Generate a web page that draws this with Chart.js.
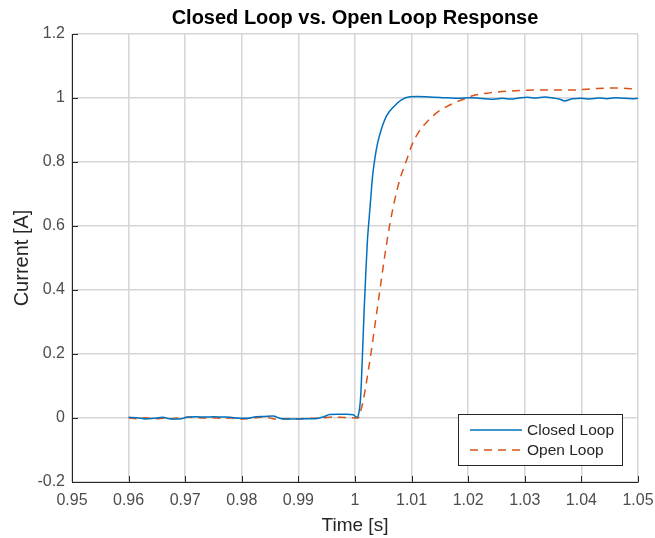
<!DOCTYPE html>
<html>
<head>
<meta charset="utf-8">
<script src="https://cdn.jsdelivr.net/npm/chart.js@4/dist/chart.umd.min.js"></script>
<style>
  html,body{margin:0;padding:0;background:#fff;}
  #wrap{position:relative;width:655px;height:538px;}
</style>
</head>
<body>
<div id="wrap"><canvas id="chart" width="655" height="538"></canvas></div>
<script>
// Data
const closedT = [0.96,0.9615,0.963,0.9645,0.966,0.9675,0.969,0.9705,0.972,0.9735,0.975,0.9765,0.978,0.9795,0.981,0.9825,0.984,0.9855,0.987,0.9885,0.99,0.9915,0.993,0.9945,0.9955,0.997,0.9985,0.9997,1.0003,1.0006,1.001,1.0013,1.0016,1.0019,1.0022,1.0025,1.0028,1.0031,1.0035,1.004,1.0047,1.0056,1.0068,1.0082,1.0097,1.011,1.0125,1.014,1.0155,1.017,1.0185,1.02,1.0215,1.023,1.0245,1.026,1.0275,1.029,1.0305,1.032,1.0335,1.035,1.0362,1.037,1.0385,1.04,1.0415,1.043,1.0445,1.046,1.0475,1.049,1.05];
const closedI = [0.002,0.001,-0.003,-0.001,0.002,-0.003,-0.003,0.003,0.004,0.003,0.004,0.003,0.002,-0.001,-0.001,0.004,0.005,0.006,-0.002,-0.003,-0.003,-0.002,-0.002,0.004,0.011,0.012,0.012,0.01,0.002,0.009,0.067,0.19,0.33,0.45,0.556,0.625,0.69,0.755,0.81,0.86,0.905,0.945,0.972,0.994,1.004,1.005,1.004,1.002,1.001,1.0,0.999,1.001,1.0,0.998,0.996,0.999,0.997,1.0,1.002,1.0,1.003,1.0,0.996,0.991,0.998,0.999,0.997,1.0,0.998,1.001,0.999,0.998,0.999];

const openT = [0.96,0.9615,0.963,0.9645,0.966,0.9675,0.969,0.9705,0.972,0.9735,0.975,0.9765,0.978,0.9795,0.981,0.9825,0.984,0.9855,0.987,0.9885,0.99,0.9915,0.993,0.9945,0.996,0.9975,0.999,1.0006,1.0008,1.0014,1.002,1.0028,1.0036,1.0044,1.0052,1.0061,1.007,1.008,1.009,1.0101,1.0113,1.0127,1.0145,1.0162,1.018,1.0195,1.0208,1.0238,1.0277,1.0322,1.0385,1.0428,1.0463,1.05];
const openI = [0.0,-0.002,0.001,-0.003,-0.001,-0.002,0.0,0.002,0.001,0.0,0.001,-0.001,0.0,-0.003,-0.002,0.001,0.003,-0.002,-0.003,-0.002,-0.003,-0.001,-0.001,0.001,0.003,0.002,0.001,0.0,0.01,0.05,0.11,0.2,0.3,0.4,0.5,0.6,0.68,0.75,0.8,0.855,0.895,0.925,0.955,0.973,0.988,0.998,1.007,1.016,1.022,1.025,1.025,1.03,1.031,1.028];

const seriesNames = ["Closed Loop","Open Loop"];
const xTicks = [0.95,0.96,0.97,0.98,0.99,1.0,1.01,1.02,1.03,1.04,1.05];
const yTicks = [-0.2,0,0.2,0.4,0.6,0.8,1,1.2];

function pts(t,v){ return t.map((x,i)=>({x:x,y:v[i]})); }

const font = "'Liberation Sans', Arial, sans-serif";

// Inner ticks + legend box, MATLAB style
const matlabBits = {
  id:"matlabBits",
  afterDraw(chart){
    const ctx = chart.ctx, a = chart.chartArea;
    const xs = chart.scales.x, ys = chart.scales.y;
    ctx.save();
    ctx.strokeStyle = "#262626";
    ctx.lineWidth = 1;
    ctx.beginPath();
    xTicks.forEach(v=>{
      const px = Math.round(xs.getPixelForValue(v))+0.5;
      ctx.moveTo(px,a.bottom); ctx.lineTo(px,a.bottom-6);
    });
    yTicks.forEach(v=>{
      const py = Math.round(ys.getPixelForValue(v))+0.5;
      ctx.moveTo(a.left,py); ctx.lineTo(a.left+6,py);
    });
    ctx.stroke();

    // legend
    const bx = 458.5, by = 414.5, bw = 164, bh = 51;
    ctx.fillStyle = "#fff";
    ctx.fillRect(bx,by,bw,bh);
    ctx.strokeRect(bx,by,bw,bh);
    ctx.font = "15.5px " + font;
    ctx.textBaseline = "middle";
    chart.data.datasets.forEach((ds,i)=>{
      const y = 430 + i*20;
      ctx.strokeStyle = ds.borderColor;
      ctx.lineWidth = 1.5;
      ctx.setLineDash(ds.borderDash || []);
      ctx.beginPath(); ctx.moveTo(470,y); ctx.lineTo(522,y); ctx.stroke();
      ctx.setLineDash([]);
      ctx.fillStyle = "#262626";
      ctx.fillText(ds.label,527,y+1);
    });
    ctx.restore();
  }
};

new Chart(document.getElementById("chart"),{
  type:"line",
  data:{
    datasets:[{
      label:seriesNames[0],
      data:pts(closedT,closedI),
      borderColor:"#0072BD",
      borderWidth:1.5,
      pointRadius:0,
      cubicInterpolationMode:"monotone"
    },{
      label:seriesNames[1],
      data:pts(openT,openI),
      borderColor:"#D95319",
      borderWidth:1.5,
      borderDash:[8,6],
      pointRadius:0,
      cubicInterpolationMode:"monotone"
    }]
  },
  options:{
    responsive:false,
    animation:false,
    layout:{padding:{left:0,right:17,top:0,bottom:0}},
    plugins:{
      legend:{display:false},
      tooltip:{enabled:false},
      title:{
        display:true,
        text:"Closed Loop vs. Open Loop Response",
        fullSize:false,
        color:"#000",
        font:{family:font,size:20,weight:"bold"},
        padding:{top:6,bottom:4}
      }
    },
    scales:{
      x:{
        type:"linear",
        min:0.95,max:1.05,
        afterBuildTicks:s=>{ s.ticks = xTicks.map(v=>({value:v})); },
        afterFit:s=>{ s.height = 56; s.paddingLeft = 0; s.paddingRight = 0; },
        ticks:{
          color:"#4d4d4d",
          font:{family:font,size:16},
          padding:9,
          maxRotation:0,
          callback:v=>String(Math.round(v*100)/100)
        },
        grid:{color:"#d6d6d6",lineWidth:1.5,drawTicks:false},
        border:{display:true,color:"#262626",width:1},
        title:{display:true,text:"Time [s]",color:"#262626",font:{family:font,size:19},padding:{top:0,bottom:1}}
      },
      y:{
        min:-0.2,max:1.2,
        afterBuildTicks:s=>{ s.ticks = yTicks.map(v=>({value:v})); },
        afterFit:s=>{ s.width = 72; s.paddingTop = 0; s.paddingBottom = 0; },
        ticks:{
          color:"#4d4d4d",
          font:{family:font,size:16},
          padding:7,
          callback:v=>String(Math.round(v*10)/10)
        },
        grid:{color:"#d6d6d6",lineWidth:1.5,drawTicks:false},
        border:{display:true,color:"#262626",width:1},
        title:{display:true,text:"Current [A]",color:"#262626",font:{family:font,size:20},padding:{top:10,bottom:0}}
      }
    }
  },
  plugins:[matlabBits]
});
</script>
</body>
</html>
